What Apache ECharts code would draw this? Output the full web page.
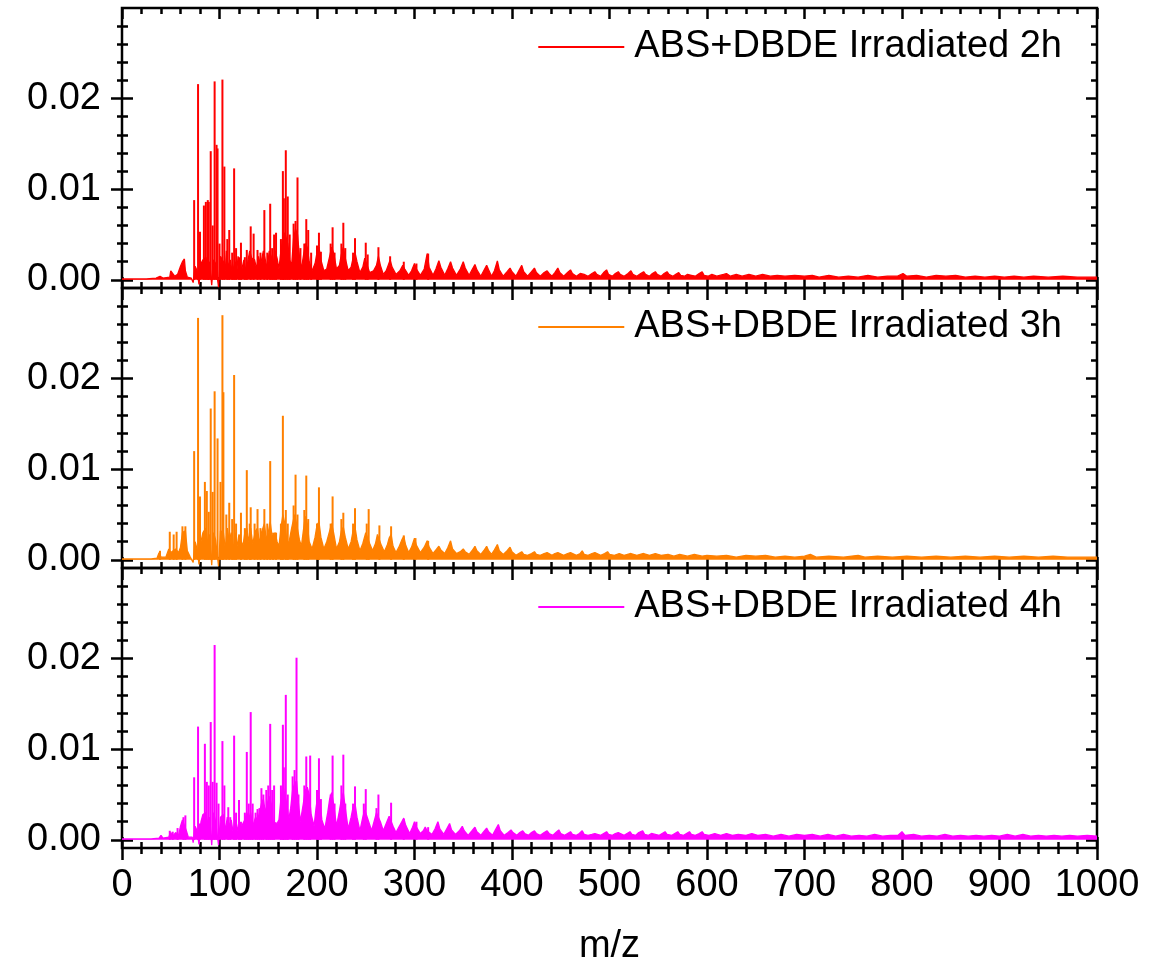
<!DOCTYPE html>
<html>
<head>
<meta charset="utf-8">
<script src="https://cdn.jsdelivr.net/npm/echarts@6/dist/echarts.min.js"></script>
<style>
  html, body { margin: 0; padding: 0; background: #fff; }
  #chart { width: 1150px; height: 969px; }
</style>
</head>
<body>
<div id="chart"></div>
<script>
// Mass spectra of ABS+DBDE after different irradiation times
const seriesNames = ['ABS+DBDE Irradiated 2h', 'ABS+DBDE Irradiated 3h', 'ABS+DBDE Irradiated 4h'];

// Tick values
const xTickStep = 100;
const xRange = [0, 1000];
const yRange = [-0.0009, 0.030];
const yMajorTicks = [0, 0.01, 0.02];
const yMinorTicks = [0.002, 0.004, 0.006, 0.008, 0.012, 0.014, 0.016, 0.018, 0.022, 0.024, 0.026, 0.028];

// Strong isolated peaks [m/z, intensity]
const peaks2h = [
  [74, 0.0088], [78, 0.0216], [80, 0.0053], [84, 0.0082], [86, 0.0086], [88, 0.0088], [89, 0.0086],
  [91, 0.0142], [93, 0.0060], [95, 0.0219], [97, 0.0149], [98, 0.0145], [100, 0.0040], [103, 0.0221],
  [105, 0.0125], [108, 0.0045], [110, 0.0055], [113, 0.0030], [115, 0.0123], [117, 0.0035], [120, 0.0025],
  [122, 0.0041], [126, 0.0025], [128, 0.0033], [132, 0.0059], [135, 0.0051], [139, 0.0033], [142, 0.0030],
  [146, 0.0077], [149, 0.0030], [152, 0.0084], [154, 0.0035], [156, 0.0050], [158, 0.0052], [163, 0.0045],
  [165, 0.0120], [166, 0.0090], [168, 0.0143], [170, 0.0092], [172, 0.0050], [176, 0.0062], [178, 0.0065],
  [180, 0.0113], [183, 0.0035], [187, 0.0040], [189, 0.0067], [191, 0.0055], [194, 0.0030], [200, 0.0038],
  [202, 0.0052], [204, 0.0031], [214, 0.0040], [216, 0.0058], [218, 0.0030], [225, 0.0040], [227, 0.0063],
  [229, 0.0035], [237, 0.0030], [239, 0.0046], [250, 0.0041], [252, 0.0028], [263, 0.0036], [275, 0.0026],
  [289, 0.0020], [302, 0.0018], [314, 0.0029]
];
const peaks3h = [
  [39, 0.0010], [49, 0.0031], [53, 0.0028], [56, 0.0031], [62, 0.0037], [65, 0.0037], [74, 0.0120],
  [78, 0.0267], [80, 0.0070], [85, 0.0086], [87, 0.0076], [89, 0.0053], [91, 0.0167], [93, 0.0075],
  [95, 0.0186], [98, 0.0134], [101, 0.0086], [103, 0.0270], [104, 0.0185], [107, 0.0050], [110, 0.0063],
  [113, 0.0045], [115, 0.0204], [117, 0.0040], [122, 0.0052], [126, 0.0035], [128, 0.0099], [131, 0.0040],
  [132, 0.0058], [136, 0.0040], [139, 0.0056], [142, 0.0035], [146, 0.0056], [149, 0.0040], [152, 0.0109],
  [155, 0.0030], [158, 0.0030], [163, 0.0040], [165, 0.0159], [168, 0.0055], [170, 0.0040], [176, 0.0060],
  [178, 0.0094], [180, 0.0050], [187, 0.0055], [189, 0.0093], [191, 0.0045], [200, 0.0040], [202, 0.0080],
  [214, 0.0040], [216, 0.0070], [225, 0.0045], [227, 0.0052], [237, 0.0040], [239, 0.0057], [251, 0.0040],
  [253, 0.0056], [264, 0.0038], [276, 0.0037], [289, 0.0027], [301, 0.0024], [314, 0.0021]
];
const peaks4h = [
  [49, 0.0010], [52, 0.0009], [57, 0.0013], [63, 0.0025], [65, 0.0027], [74, 0.0069], [78, 0.0125],
  [80, 0.0018], [85, 0.0106], [87, 0.0064], [89, 0.0060], [91, 0.0130], [93, 0.0064], [95, 0.0215],
  [97, 0.0063], [99, 0.0040], [103, 0.0109], [105, 0.0060], [109, 0.0036], [111, 0.0025], [115, 0.0115],
  [117, 0.0030], [120, 0.0044], [122, 0.0020], [126, 0.0030], [128, 0.0097], [130, 0.0040], [132, 0.0141],
  [134, 0.0040], [137, 0.0030], [139, 0.0034], [141, 0.0035], [143, 0.0057], [145, 0.0050], [148, 0.0055],
  [150, 0.0060], [152, 0.0128], [154, 0.0055], [156, 0.0060], [163, 0.0060], [165, 0.0127], [166, 0.0080],
  [168, 0.0160], [170, 0.0050], [175, 0.0070], [177, 0.0077], [179, 0.0201], [181, 0.0050], [187, 0.0060],
  [189, 0.0092], [191, 0.0050], [193, 0.0093], [200, 0.0055], [202, 0.0090], [204, 0.0045], [214, 0.0050],
  [216, 0.0093], [218, 0.0040], [225, 0.0060], [227, 0.0094], [229, 0.0040], [237, 0.0040], [239, 0.0059],
  [248, 0.0040], [250, 0.0056], [261, 0.0035], [263, 0.0050], [276, 0.0041], [289, 0.0023], [302, 0.0020],
  [314, 0.0014]
];

// Continuous trace (cluster envelopes and baseline) [m/z, intensity]
const trace2h = [
  [0,0.0001],[25,0.0001],[35,0.0002],[39,0.0004],[42,0.0002],[49,0.0003],[50,0.0010],[52,0.0009],[54,0.0004],[57,0.0006],
  [59,0.0004],[60,0.0015],[62,0.0020],[64,0.0023],[65,0.0010],[67,0.0003],[71,0.0002],[73,-0.0003],[75,0.0015],[77,0.0010],
  [79,-0.0005],[81,0.0018],[83,0.0022],[86,0.0025],[88,0.0012],[90,0.0020],[92,-0.0006],[94,0.0022],[96,0.0018],[99,-0.0008],
  [101,0.0026],[104,0.0020],[106,0.0010],[107,0.0032],[109,0.0014],[111,0.0022],[113,0.0008],[116,0.0020],[118,0.0012],[119,0.0026],
  [121,0.0016],[123,0.0012],[125,0.0022],[127,0.0010],[129,0.0020],[131,0.0032],[133,0.0024],[136,0.0022],[138,0.0012],[140,0.0026],
  [142,0.0016],[145,0.0032],[147,0.0022],[149,0.0012],[151,0.0032],[153,0.0026],[155,0.0016],[157,0.0032],[159,0.0024],[161,0.0012],
  [163,0.0032],[165,0.0046],[167,0.0052],[170,0.0040],[172,0.0022],[174,0.0016],[176,0.0046],[178,0.0056],[180,0.0050],[182,0.0026],
  [184,0.0012],[186,0.0026],[188,0.0040],[190,0.0036],[192,0.0020],[195,0.0010],[198,0.0018],[200,0.0030],[202,0.0036],[204,0.0022],
  [207,0.0010],[210,0.0012],[213,0.0026],[215,0.0036],[217,0.0030],[220,0.0012],[223,0.0016],[225,0.0028],[227,0.0036],[229,0.0024],
  [232,0.0010],[235,0.0014],[237,0.0024],[239,0.0030],[241,0.0020],[244,0.0008],[247,0.0014],[249,0.0024],[251,0.0022],[254,0.0008],
  [258,0.0010],[261,0.0016],[263,0.0026],[265,0.0016],[268,0.0006],[271,0.0010],[273,0.0016],[275,0.0022],[277,0.0014],[281,0.0006],
  [285,0.0010],[288,0.0016],[290,0.0012],[294,0.0005],[297,0.0010],[300,0.0018],[302,0.0012],[306,0.0005],[310,0.0012],[313,0.0029],
  [315,0.0014],[319,0.0005],[322,0.0012],[325,0.0021],[327,0.0014],[331,0.0005],[334,0.0012],[337,0.0020],[339,0.0013],[343,0.0005],
  [347,0.0012],[350,0.0020],[352,0.0013],[356,0.0005],[359,0.0011],[362,0.0017],[364,0.0011],[368,0.0004],[371,0.0010],[374,0.0016],
  [376,0.0011],[379,0.0004],[382,0.0010],[385,0.0021],[387,0.0011],[391,0.0004],[395,0.0009],[398,0.0013],[400,0.0009],[404,0.0004],
  [407,0.0010],[410,0.0016],[412,0.0009],[416,0.0004],[420,0.0009],[423,0.0013],[425,0.0008],[429,0.0004],[433,0.0008],[436,0.0010],
  [438,0.0007],[441,0.0004],[444,0.0008],[447,0.0013],[449,0.0008],[453,0.0004],[457,0.0008],[460,0.0011],[462,0.0007],[466,0.0004],
  [470,0.0007],[472,0.0009],[474,0.0006],[478,0.0004],[482,0.0007],[485,0.0009],[487,0.0006],[491,0.0004],[494,0.0008],[497,0.0011],
  [499,0.0006],[503,0.0004],[506,0.0007],[509,0.0009],[511,0.0006],[515,0.0004],[519,0.0007],[522,0.0010],[524,0.0006],[528,0.0004],
  [532,0.0007],[535,0.0009],[537,0.0006],[541,0.0004],[544,0.0007],[547,0.0009],[549,0.0006],[553,0.0004],[556,0.0007],[559,0.0009],
  [561,0.0006],[565,0.0004],[568,0.0006],[571,0.0008],[573,0.0005],[577,0.0004],[580,0.0006],[582,0.0008],[584,0.0005],[588,0.0004],
  [592,0.0007],[595,0.0009],[597,0.0005],[601,0.0004],[605,0.0006],[607,0.0008],[610,0.0004],[617,0.0006],[620,0.0007],[624,0.0004],
  [630,0.0006],[636,0.0004],[643,0.0006],[650,0.0004],[657,0.0006],[665,0.0004],[672,0.0005],[680,0.0004],[690,0.0005],[700,0.0004],
  [708,0.0005],[715,0.0003],[725,0.0005],[735,0.0003],[745,0.0004],[755,0.0003],[765,0.0005],[775,0.0003],[785,0.0004],[795,0.0004],
  [801,0.0007],[805,0.0004],[815,0.0005],[825,0.0003],[835,0.0005],[845,0.0004],[855,0.0005],[865,0.0003],[875,0.0004],[885,0.0003],
  [895,0.0004],[905,0.0003],[915,0.0004],[925,0.0003],[935,0.0004],[950,0.0003],[965,0.0004],[980,0.0003],[1000,0.0003]
];
const trace3h = [
  [0,0.0001],[30,0.0001],[36,0.0002],[38,0.0008],[40,0.0003],[45,0.0003],[48,0.0012],[50,0.0008],[52,0.0006],[55,0.0012],
  [58,0.0008],[60,0.0014],[62,0.0030],[65,0.0032],[67,0.0010],[70,0.0003],[73,-0.0003],[75,0.0020],[77,0.0012],[79,-0.0005],
  [81,0.0020],[83,0.0030],[86,0.0035],[88,0.0018],[90,0.0028],[92,-0.0006],[94,0.0030],[96,0.0022],[99,-0.0007],[101,0.0032],
  [104,0.0030],[106,0.0012],[108,0.0035],[110,0.0020],[112,0.0030],[114,0.0010],[116,0.0030],[118,0.0015],[120,0.0028],[122,0.0030],
  [124,0.0015],[126,0.0030],[128,0.0035],[130,0.0020],[132,0.0035],[134,0.0018],[137,0.0032],[139,0.0035],[141,0.0018],[143,0.0030],
  [146,0.0040],[148,0.0022],[150,0.0030],[152,0.0042],[154,0.0025],[157,0.0030],[159,0.0020],[161,0.0015],[163,0.0035],[165,0.0050],
  [167,0.0040],[169,0.0022],[171,0.0018],[174,0.0035],[177,0.0050],[179,0.0040],[182,0.0022],[184,0.0015],[186,0.0032],[188,0.0048],
  [190,0.0040],[192,0.0020],[195,0.0012],[198,0.0025],[200,0.0038],[202,0.0042],[204,0.0025],[207,0.0012],[210,0.0020],[213,0.0032],
  [215,0.0040],[217,0.0030],[220,0.0012],[223,0.0020],[225,0.0032],[227,0.0036],[229,0.0025],[232,0.0012],[235,0.0020],[237,0.0032],
  [239,0.0036],[241,0.0022],[244,0.0010],[247,0.0018],[250,0.0030],[252,0.0032],[254,0.0018],[257,0.0010],[260,0.0018],[262,0.0028],
  [264,0.0030],[266,0.0016],[269,0.0009],[272,0.0016],[274,0.0024],[276,0.0028],[278,0.0015],[281,0.0008],[284,0.0014],[287,0.0022],
  [289,0.0026],[291,0.0016],[294,0.0008],[297,0.0014],[300,0.0024],[302,0.0016],[306,0.0008],[310,0.0014],[313,0.0021],[315,0.0014],
  [319,0.0007],[322,0.0011],[325,0.0015],[327,0.0011],[331,0.0007],[334,0.0013],[337,0.0021],[339,0.0012],[343,0.0007],[347,0.0009],
  [350,0.0012],[352,0.0009],[356,0.0006],[359,0.0010],[362,0.0015],[364,0.0010],[368,0.0006],[371,0.0010],[374,0.0015],[376,0.0010],
  [379,0.0006],[382,0.0011],[385,0.0017],[387,0.0010],[391,0.0006],[395,0.0010],[398,0.0014],[400,0.0009],[404,0.0005],[407,0.0007],
  [410,0.0009],[412,0.0006],[416,0.0005],[420,0.0007],[423,0.0009],[425,0.0006],[429,0.0005],[433,0.0007],[436,0.0008],[438,0.0006],
  [441,0.0005],[444,0.0007],[447,0.0008],[449,0.0006],[453,0.0005],[457,0.0007],[460,0.0008],[462,0.0006],[466,0.0005],[470,0.0007],
  [472,0.0010],[474,0.0006],[478,0.0005],[482,0.0007],[485,0.0008],[487,0.0006],[491,0.0005],[495,0.0007],[498,0.0009],[500,0.0006],
  [505,0.0005],[510,0.0007],[515,0.0005],[522,0.0007],[528,0.0005],[535,0.0007],[541,0.0005],[547,0.0007],[553,0.0005],[560,0.0006],
  [566,0.0004],[572,0.0006],[580,0.0004],[587,0.0006],[595,0.0004],[600,0.0005],[610,0.0004],[620,0.0005],[630,0.0003],[640,0.0005],
  [650,0.0004],[660,0.0005],[670,0.0003],[680,0.0004],[690,0.0003],[700,0.0004],[706,0.0006],[712,0.0003],[725,0.0004],[740,0.0003],
  [755,0.0005],[762,0.0003],[775,0.0004],[790,0.0003],[805,0.0004],[820,0.0003],[835,0.0004],[850,0.0003],[865,0.0004],[880,0.0003],
  [895,0.0004],[910,0.0003],[925,0.0004],[940,0.0003],[955,0.0004],[970,0.0003],[985,0.0003],[1000,0.0003]
];
const trace4h = [
  [0,0.0001],[30,0.0001],[38,0.0002],[40,0.0005],[42,0.0002],[48,0.0003],[50,0.0008],[52,0.0004],[55,0.0008],[58,0.0005],
  [60,0.0015],[62,0.0022],[64,0.0024],[66,0.0010],[68,0.0003],[72,0.0003],[73,-0.0003],[75,0.0015],[77,0.0010],[79,-0.0005],
  [81,0.0020],[83,0.0028],[86,0.0030],[88,0.0018],[90,0.0025],[92,-0.0006],[94,0.0030],[96,0.0020],[99,-0.0006],[101,0.0025],
  [104,0.0028],[106,0.0010],[108,0.0025],[110,0.0015],[112,0.0022],[114,0.0008],[116,0.0022],[118,0.0010],[120,0.0020],[122,0.0012],
  [124,0.0018],[126,0.0022],[128,0.0030],[130,0.0024],[132,0.0030],[134,0.0015],[137,0.0025],[139,0.0022],[141,0.0030],[143,0.0040],
  [145,0.0045],[147,0.0030],[149,0.0040],[151,0.0048],[153,0.0040],[155,0.0020],[157,0.0022],[159,0.0018],[161,0.0022],[163,0.0045],
  [165,0.0060],[167,0.0062],[169,0.0040],[171,0.0022],[173,0.0035],[175,0.0055],[177,0.0062],[179,0.0065],[181,0.0040],[183,0.0020],
  [186,0.0040],[188,0.0055],[190,0.0058],[192,0.0050],[194,0.0028],[197,0.0015],[199,0.0035],[201,0.0050],[203,0.0042],[205,0.0022],
  [208,0.0012],[211,0.0030],[213,0.0045],[215,0.0052],[217,0.0040],[220,0.0015],[223,0.0032],[225,0.0045],[227,0.0052],[229,0.0035],
  [232,0.0012],[235,0.0025],[237,0.0036],[239,0.0040],[241,0.0025],[244,0.0010],[247,0.0025],[249,0.0033],[251,0.0035],[253,0.0020],
  [256,0.0010],[259,0.0022],[261,0.0030],[263,0.0032],[265,0.0020],[268,0.0010],[271,0.0018],[274,0.0026],[276,0.0028],[278,0.0015],
  [281,0.0008],[284,0.0014],[287,0.0020],[289,0.0024],[291,0.0016],[295,0.0007],[298,0.0014],[300,0.0020],[302,0.0014],[306,0.0007],
  [309,0.0010],[311,0.0014],[313,0.0010],[318,0.0006],[321,0.0012],[324,0.0020],[326,0.0012],[330,0.0006],[333,0.0012],[336,0.0018],
  [338,0.0011],[342,0.0006],[346,0.0010],[349,0.0015],[351,0.0010],[355,0.0005],[359,0.0010],[362,0.0014],[364,0.0009],[368,0.0005],
  [371,0.0009],[374,0.0013],[376,0.0009],[380,0.0005],[383,0.0011],[386,0.0017],[388,0.0010],[392,0.0005],[396,0.0008],[399,0.0011],
  [401,0.0008],[405,0.0005],[408,0.0008],[411,0.0010],[413,0.0007],[417,0.0005],[420,0.0008],[423,0.0010],[425,0.0007],[429,0.0005],
  [433,0.0008],[436,0.0010],[438,0.0007],[442,0.0005],[445,0.0008],[448,0.0011],[450,0.0007],[454,0.0005],[457,0.0007],[460,0.0009],
  [462,0.0006],[466,0.0005],[469,0.0007],[472,0.0010],[474,0.0006],[478,0.0005],[482,0.0006],[485,0.0007],[487,0.0005],[491,0.0005],
  [494,0.0007],[497,0.0009],[499,0.0006],[503,0.0005],[506,0.0007],[509,0.0008],[511,0.0006],[515,0.0005],[518,0.0007],[521,0.0009],
  [523,0.0006],[527,0.0005],[530,0.0008],[534,0.0010],[536,0.0006],[540,0.0005],[543,0.0007],[545,0.0008],[547,0.0006],[551,0.0005],
  [554,0.0007],[557,0.0009],[559,0.0006],[564,0.0005],[567,0.0007],[570,0.0009],[572,0.0006],[576,0.0005],[579,0.0007],[582,0.0009],
  [584,0.0006],[588,0.0005],[592,0.0007],[595,0.0009],[597,0.0006],[602,0.0005],[608,0.0007],[614,0.0005],[620,0.0007],[626,0.0005],
  [632,0.0006],[640,0.0005],[646,0.0007],[652,0.0005],[660,0.0006],[668,0.0004],[676,0.0006],[684,0.0004],[692,0.0006],[700,0.0005],
  [708,0.0006],[716,0.0004],[724,0.0006],[732,0.0004],[740,0.0006],[748,0.0004],[756,0.0005],[764,0.0004],[772,0.0006],[780,0.0004],
  [788,0.0005],[796,0.0005],[800,0.0009],[803,0.0005],[812,0.0006],[820,0.0004],[828,0.0005],[836,0.0004],[844,0.0006],[852,0.0004],
  [860,0.0005],[868,0.0004],[876,0.0005],[884,0.0004],[892,0.0005],[900,0.0004],[908,0.0006],[916,0.0004],[924,0.0006],[932,0.0004],
  [940,0.0005],[948,0.0004],[956,0.0005],[964,0.0004],[972,0.0005],[980,0.0004],[990,0.0005],[1000,0.0004]
];

const peakSets = [peaks2h, peaks3h, peaks4h];
const traceSets = [trace2h, trace3h, trace4h];

// ---- styling / layout ----
const lineColors = ['#ff0000', '#ff8000', '#ff00ff'];
const FONT = 'Liberation Sans';
const FS = 38;
const AX = '#000';
const TW = 2.5;
const panelTop = [8, 288, 568];
const panelH = 280;

const grids = [], xAxes = [], yAxes = [], series = [], legends = [];

function tickStyle() { return { color: AX, width: TW }; }

panelTop.forEach((top, i) => {
  grids.push({
    left: 122, right: 53, top: top, height: panelH,
    show: true, borderColor: AX, borderWidth: TW, backgroundColor: 'transparent'
  });

  const isLast = i === panelTop.length - 1;
  const xBase = {
    gridIndex: i, type: 'value', min: xRange[0], max: xRange[1], interval: xTickStep,
    axisLine: { show: false, onZero: false }, splitLine: { show: false }
  };
  // bottom axis, ticks outward (carries labels on the last panel)
  const xMain = xAxes.length;
  xAxes.push(Object.assign({}, xBase, {
    position: 'bottom',
    axisTick: { show: true, inside: false, length: 12, lineStyle: tickStyle() },
    minorTick: { show: true, splitNumber: 5, length: 6, lineStyle: tickStyle() },
    axisLabel: {
      show: isLast, fontSize: FS, fontFamily: FONT, color: AX, margin: 19,
      formatter: v => String(v)
    },
    name: isLast ? 'm/z' : '', nameLocation: 'middle', nameGap: 80,
    nameTextStyle: { fontSize: FS, fontFamily: FONT, color: AX }
  }));
  // bottom axis, ticks inward
  xAxes.push(Object.assign({}, xBase, {
    position: 'bottom',
    axisTick: { show: true, inside: true, length: 11, lineStyle: tickStyle() },
    minorTick: { show: true, splitNumber: 5, length: 6, lineStyle: tickStyle() },
    axisLabel: { show: false }
  }));
  // top axis, ticks inward
  xAxes.push(Object.assign({}, xBase, {
    position: 'top',
    axisTick: { show: true, inside: true, length: 11, lineStyle: tickStyle() },
    minorTick: { show: true, splitNumber: 5, length: 6, lineStyle: tickStyle() },
    axisLabel: { show: false }
  }));

  const yBase = {
    gridIndex: i, type: 'value', min: yRange[0], max: yRange[1],
    axisLine: { show: false, onZero: false }, splitLine: { show: false }
  };
  const yMain = yAxes.length;
  // left: major ticks outward + labels
  yAxes.push(Object.assign({}, yBase, {
    position: 'left',
    axisTick: { show: true, inside: false, length: 11, customValues: yMajorTicks, lineStyle: tickStyle() },
    axisLabel: {
      show: true, customValues: yMajorTicks, fontSize: FS, fontFamily: FONT, color: AX, margin: 21,
      formatter: v => v.toFixed(2)
    }
  }));
  // left: major ticks inward
  yAxes.push(Object.assign({}, yBase, {
    position: 'left',
    axisTick: { show: true, inside: true, length: 11, customValues: yMajorTicks, lineStyle: tickStyle() },
    axisLabel: { show: false }
  }));
  // left: minor ticks outward / inward
  yAxes.push(Object.assign({}, yBase, {
    position: 'left',
    axisTick: { show: true, inside: false, length: 5, customValues: yMinorTicks, lineStyle: tickStyle() },
    axisLabel: { show: false }
  }));
  yAxes.push(Object.assign({}, yBase, {
    position: 'left',
    axisTick: { show: true, inside: true, length: 6, customValues: yMinorTicks, lineStyle: tickStyle() },
    axisLabel: { show: false }
  }));
  // right: major and minor ticks inward
  yAxes.push(Object.assign({}, yBase, {
    position: 'right',
    axisTick: { show: true, inside: true, length: 11, customValues: yMajorTicks, lineStyle: tickStyle() },
    axisLabel: { show: false }
  }));
  yAxes.push(Object.assign({}, yBase, {
    position: 'right',
    axisTick: { show: true, inside: true, length: 6, customValues: yMinorTicks, lineStyle: tickStyle() },
    axisLabel: { show: false }
  }));

  const color = lineColors[i];
  series.push({
    type: 'line', name: seriesNames[i], xAxisIndex: xMain, yAxisIndex: yMain,
    data: traceSets[i], showSymbol: false, symbol: 'none', silent: true,
    lineStyle: { color: color, width: 1.3 },
    itemStyle: { color: color },
    areaStyle: { color: color, opacity: 1 }
  });
  series.push({
    type: 'bar', name: seriesNames[i], xAxisIndex: xMain, yAxisIndex: yMain,
    data: peakSets[i], barWidth: 2, silent: true,
    itemStyle: { color: color }
  });

  legends.push({
    data: [seriesNames[i]], right: 88, top: top + 20, padding: 0,
    icon: 'rect', itemWidth: 86, itemHeight: 2, selectedMode: false,
    textStyle: { fontSize: FS, fontFamily: FONT, color: AX, padding: [0, 0, 0, 5] }
  });
});

const chart = echarts.init(document.getElementById('chart'), null, { renderer: 'canvas' });
chart.setOption({
  animation: false,
  backgroundColor: '#fff',
  grid: grids,
  xAxis: xAxes,
  yAxis: yAxes,
  legend: legends,
  series: series
});
</script>
</body>
</html>
